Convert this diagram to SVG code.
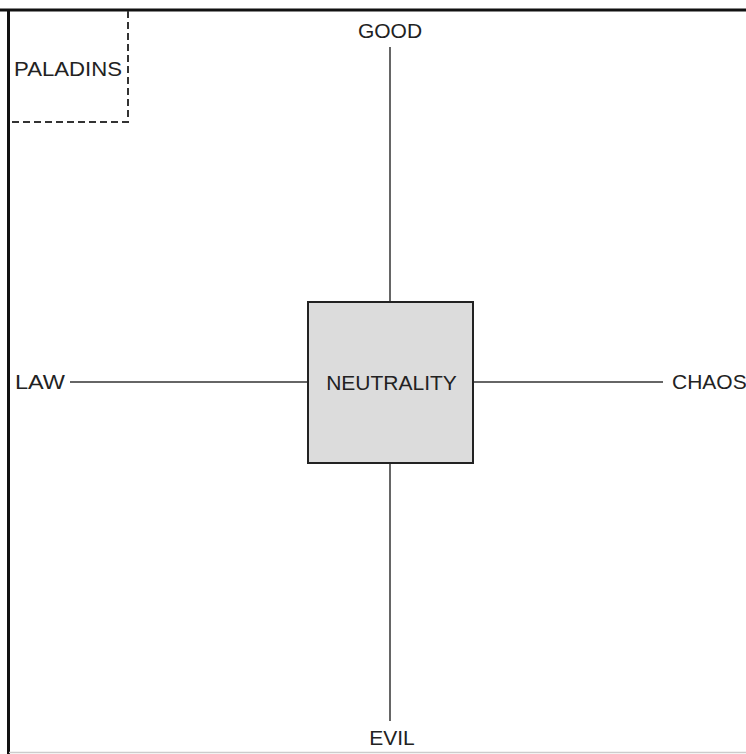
<svg xmlns="http://www.w3.org/2000/svg" width="746" height="754" viewBox="0 0 746 754">
<style>
text{font-family:"Liberation Sans",Arial,sans-serif;font-size:21px;fill:#222;}
.axis{stroke:#666;stroke-width:2;fill:none;}
</style>
<rect x="0" y="0" width="746" height="754" fill="#fff"/>
<g id="frame">
<line x1="0" y1="10" x2="746" y2="10" stroke="#111" stroke-width="3"/>
<line x1="8.5" y1="9" x2="8.5" y2="754" stroke="#111" stroke-width="3"/>
<line x1="9" y1="752.5" x2="746" y2="752.5" stroke="#ccc" stroke-width="1.5"/>
</g>
<g id="connectors">
<line class="axis" x1="390" y1="47" x2="390" y2="302"/>
<line class="axis" x1="390" y1="463" x2="390" y2="721"/>
<line class="axis" x1="70" y1="382" x2="307" y2="382"/>
<line class="axis" x1="473" y1="382" x2="663" y2="382"/>
</g>
<g id="paladins">
<path d="M128 11 V122 H9" fill="none" stroke="#333" stroke-width="2" stroke-dasharray="7,4"/>
<text x="14" y="76" textLength="108" lengthAdjust="spacingAndGlyphs">PALADINS</text>
</g>
<g id="neutrality">
<rect x="308" y="302" width="165" height="161" fill="#dcdcdc" stroke="#222" stroke-width="2"/>
<text x="391.5" y="390" text-anchor="middle">NEUTRALITY</text>
</g>
<g id="good"><text x="390" y="38" text-anchor="middle">GOOD</text></g>
<g id="evil"><text x="392" y="745" text-anchor="middle">EVIL</text></g>
<g id="law"><text x="15" y="389" textLength="50" lengthAdjust="spacingAndGlyphs">LAW</text></g>
<g id="chaos"><text x="672" y="389">CHAOS</text></g>
</svg>
